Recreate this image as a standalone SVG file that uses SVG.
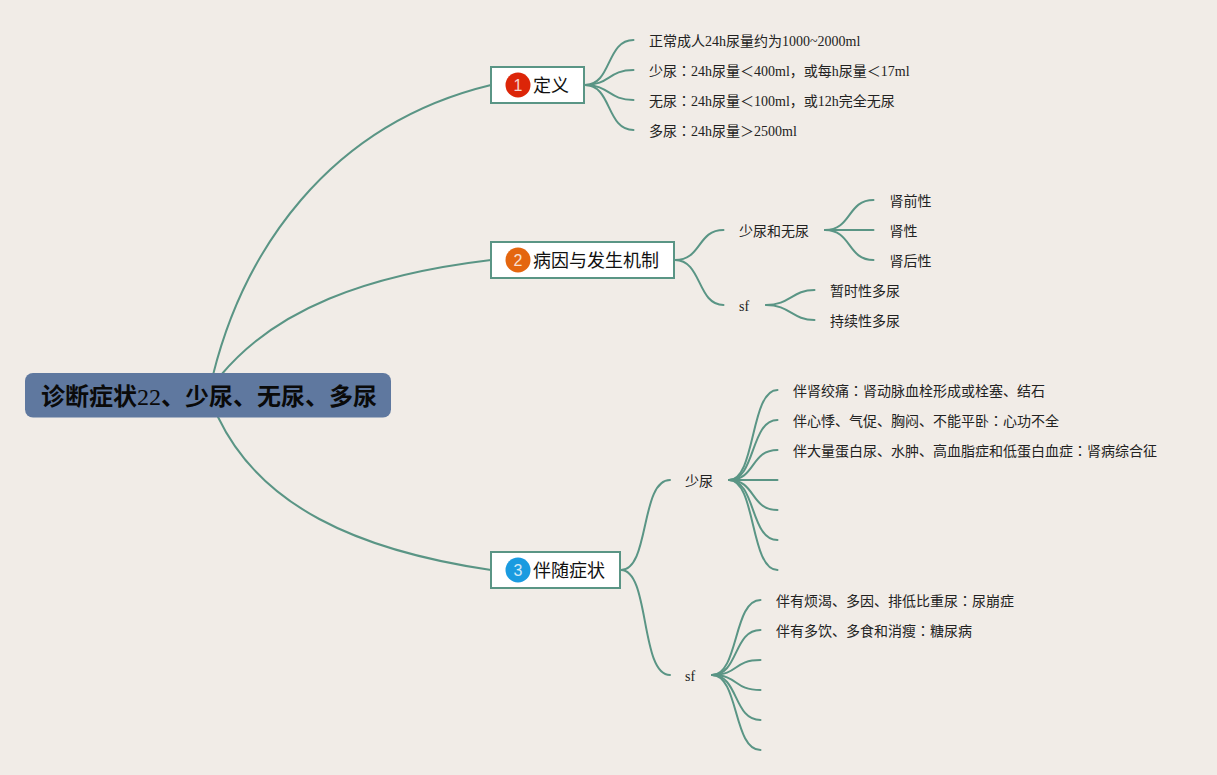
<svg xmlns="http://www.w3.org/2000/svg" width="1217" height="775" viewBox="0 0 1217 775">
<style>
text{font-family:"Liberation Serif","Noto Sans CJK SC",serif;fill:#222}
.t{font-size:14px}
.b{font-size:18px;fill:#111}
.r{font-size:24px;font-weight:bold;fill:#0a0a0a}
.d{font-weight:normal}
.n{font-family:"Liberation Sans",sans-serif;font-size:16px;fill:#fff;text-anchor:middle;opacity:.8}
.c{font-family:"Noto Sans CJK TC","Noto Sans CJK SC",sans-serif}
.box{fill:#fff;stroke:#5a9585;stroke-width:2}
#connectors path{fill:none;stroke:#5a9585;stroke-width:2;stroke-linecap:round}
</style>
<rect width="1217" height="775" fill="#f1ece7"/>
<g id="connectors">
<path d="M213 375C243 255 325 125 491 85"/>
<path d="M221 375C275 310 365 275 491 260"/>
<path d="M218 417C260 505 355 550 491 570"/>
<path d="M585 85C612 85 606 40 633.500 40"/>
<path d="M585 85C610 85 608 70 633.500 70"/>
<path d="M585 85C610 85 608 100 633.500 100"/>
<path d="M585 85C612 85 606 130 633.500 130"/>
<path d="M675 260C702 260 697 230 723.500 230"/>
<path d="M675 260C702 260 697 305 723.500 305"/>
<path d="M825 230C852 230 847 200 873.500 200"/>
<path d="M825 230H873.500"/>
<path d="M825 230C852 230 847 260 873.500 260"/>
<path d="M766 305C790 305 792 290 814.500 290"/>
<path d="M766 305C790 305 792 320 814.500 320"/>
<path d="M621 570C650 570 640 480 670 480"/>
<path d="M621 570C650 570 640 675 670 675"/>
<path d="M729 480C756 480 750 390 777.500 390"/>
<path d="M729 480C756 480 750 420 777.500 420"/>
<path d="M729 480C756 480 750 450 777.500 450"/>
<path d="M729 480H777.500"/>
<path d="M729 480C756 480 750 510 777.500 510"/>
<path d="M729 480C756 480 750 540 777.500 540"/>
<path d="M729 480C756 480 750 570 777.500 570"/>
<path d="M712 675C739 675 733 600 760.500 600"/>
<path d="M712 675C739 675 733 630 760.500 630"/>
<path d="M712 675C739 675 733 660 760.500 660"/>
<path d="M712 675C739 675 733 690 760.500 690"/>
<path d="M712 675C739 675 733 720 760.500 720"/>
<path d="M712 675C739 675 733 750 760.500 750"/>
</g>
<g id="root"><rect x="25" y="373" width="366" height="44.500" rx="8" fill="#5f789f"/><text class="r" x="41" y="405">诊断症状<tspan class="d">22</tspan>、少尿、无尿、多尿</text></g>
<g id="n1"><rect class="box" x="491" y="67" width="93" height="36"/><circle cx="518" cy="85" r="12.500" fill="#dc2508"/><text class="n" x="518" y="91">1</text><text class="b" x="533" y="92">定义</text></g>
<g id="n2"><rect class="box" x="491" y="242" width="183" height="36"/><circle cx="518" cy="260" r="12.500" fill="#e4660f"/><text class="n" x="518" y="266">2</text><text class="b" x="533" y="267">病因与发生机制</text></g>
<g id="n3"><rect class="box" x="491" y="552" width="129" height="36"/><circle cx="518" cy="570" r="12.500" fill="#1a9be0"/><text class="n" x="518" y="576">3</text><text class="b" x="533" y="577">伴随症状</text></g>
<g id="a1"><text class="t" x="649" y="46">正常成人24h尿量约为1000~2000ml</text></g>
<g id="a2"><text class="t" x="649" y="76">少尿<tspan class="c">：</tspan>24h尿量＜400ml，或每h尿量＜17ml</text></g>
<g id="a3"><text class="t" x="649" y="106">无尿<tspan class="c">：</tspan>24h尿量＜100ml，或12h完全无尿</text></g>
<g id="a4"><text class="t" x="649" y="136">多尿<tspan class="c">：</tspan>24h尿量＞2500ml</text></g>
<g id="b1"><text class="t" x="739" y="236">少尿和无尿</text></g>
<g id="b2"><text class="t" x="739" y="311">sf</text></g>
<g id="b11"><text class="t" x="889.500" y="206">肾前性</text></g>
<g id="b12"><text class="t" x="889.500" y="236">肾性</text></g>
<g id="b13"><text class="t" x="889.500" y="266">肾后性</text></g>
<g id="b21"><text class="t" x="830" y="296">暂时性多尿</text></g>
<g id="b22"><text class="t" x="830" y="326">持续性多尿</text></g>
<g id="c1"><text class="t" x="685" y="486">少尿</text></g>
<g id="c2"><text class="t" x="685" y="681">sf</text></g>
<g id="c11"><text class="t" x="793" y="396">伴肾绞痛<tspan class="c">：</tspan>肾动脉血栓形成或栓塞、结石</text></g>
<g id="c12"><text class="t" x="793" y="426">伴心悸、气促、胸闷、不能平卧<tspan class="c">：</tspan>心功不全</text></g>
<g id="c13"><text class="t" x="793" y="456">伴大量蛋白尿、水肿、高血脂症和低蛋白血症<tspan class="c">：</tspan>肾病综合征</text></g>
<g id="c21"><text class="t" x="776" y="606">伴有烦渴、多因、排低比重尿<tspan class="c">：</tspan>尿崩症</text></g>
<g id="c22"><text class="t" x="776" y="636">伴有多饮、多食和消瘦<tspan class="c">：</tspan>糖尿病</text></g>
</svg>
